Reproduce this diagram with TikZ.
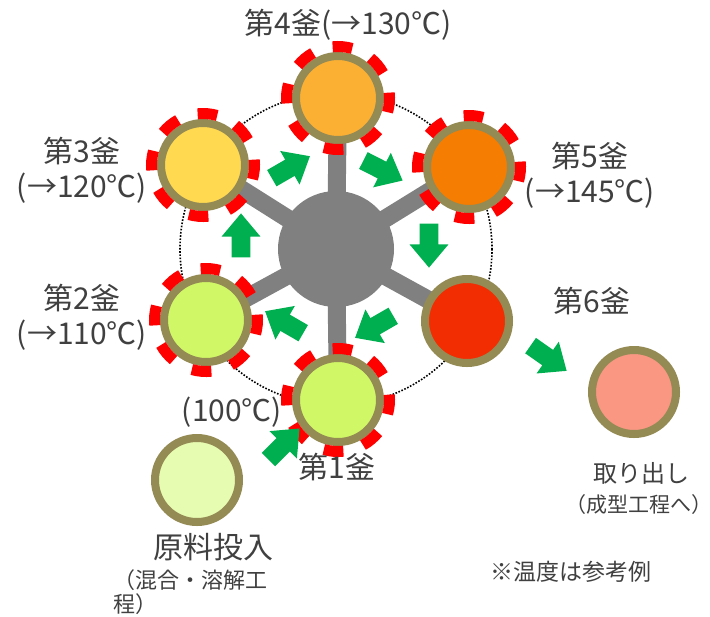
\documentclass[tikz,border=0pt]{standalone}
\usepackage{fontspec}
\setmainfont{Noto Sans CJK JP}
\usetikzlibrary{shapes.arrows,backgrounds}
\definecolor{ringol}{HTML}{948A54}
\definecolor{hubgray}{HTML}{808080}
\definecolor{flowgreen}{HTML}{00B050}
\definecolor{heatred}{HTML}{FF0000}
\definecolor{txtgray}{HTML}{404040}
\definecolor{colraw}{HTML}{E6FCB0}
\definecolor{colone}{HTML}{D0F766}
\definecolor{colthree}{HTML}{FFD950}
\definecolor{colfour}{HTML}{FBB034}
\definecolor{colfive}{HTML}{F47D02}
\definecolor{colsix}{HTML}{F32D02}
\definecolor{colout}{HTML}{F99783}
\tikzset{
  kettle/.style={circle, draw=ringol, line width=4pt, minimum size=42pt, inner sep=0pt},
  flow/.style={single arrow, fill=flowgreen, draw=none, minimum height=22pt,
    single arrow head extend=5pt, single arrow tip angle=80, inner xsep=0pt, inner ysep=4.5pt},
  heat/.pic={\foreach \a in {5,50,...,320}
    \draw[heatred, line width=5.5pt] (\a-11:51.5) arc[start angle=\a-11, end angle=\a+11, radius=51.5];},
  lbl/.style={text=txtgray, inner sep=0pt, align=center, font=\fontsize{15}{17.5}\selectfont},
  small/.style={text=txtgray, inner sep=0pt, font=\fontsize{10.5}{12}\selectfont},
}
\begin{document}
\begin{tikzpicture}[x=0.5pt, y=-0.5pt]
  \useasboundingbox (0,0) rectangle (710,616);
  % reactor
  \node[circle, fill=hubgray, minimum size=58pt, inner sep=0pt] (hub) at (336,249) {};
  \node[kettle, fill=colone] (k1) at (338,400) {};
  \node[kettle, fill=colone] (k2) at (206,320) {};
  \node[kettle, fill=colthree] (k3) at (203,165) {};
  \node[kettle, fill=colfour] (k4) at (338,98) {};
  \node[kettle, fill=colfive] (k5) at (469,167) {};
  \node[kettle, fill=colsix] (k6) at (467,321) {};
  \node[kettle, fill=colraw] (raw) at (197,480) {};
  \node[kettle, fill=colout] (out) at (634,392) {};
  \foreach \k in {k1,k2,k3,k4,k5}
    \pic at (\k) {heat};
  \begin{pgfonlayer}{background}
    \draw[line width=0.8pt, dash pattern=on 0.8pt off 0.8pt] (hub.center) circle[radius=156];
    \foreach \k in {k1,k2,k3,k4,k5,k6}
      \draw[hubgray, line width=9pt] (hub.center) -- (\k.center);
  \end{pgfonlayer}
  % flow
  \node[flow, rotate=45] (a01) at (280,448) {};
  \node[flow, rotate=150] (a12) at (289,325) {};
  \node[flow, rotate=90] (a23) at (241,241) {};
  \node[flow, rotate=30] (a34) at (286,170) {};
  \node[flow, rotate=-27] (a45) at (378,168) {};
  \node[flow, rotate=-90] (a56) at (429,240) {};
  \node[flow, rotate=210] (a61) at (379,324) {};
  \node[flow, rotate=-35] (a6o) at (544,355) {};
  % labels
  \node[lbl] (t4) at (348,25) {第4釜(→130℃)};
  \node[lbl] (t3) at (82,170) {第3釜\\(→120℃)};
  \node[lbl] (t5) at (590,175) {第5釜\\(→145℃)};
  \node[lbl] (t2) at (82,317) {第2釜\\(→110℃)};
  \node[lbl] (t6) at (592,301) {第6釜};
  \node[lbl] (t1t) at (232,412) {(100℃)};
  \node[lbl] (t1) at (337,467) {第1釜};
  \node[lbl, font=\fontsize{12}{14}\selectfont] (tout) at (641,473) {取り出し};
  \node[small] (tout2) at (639,505) {（成型工程へ）};
  \node[lbl] (traw) at (213,547) {原料投入};
  \node[small, anchor=west, align=left, font=\fontsize{11}{12}\selectfont] (traw2) at (113,592) {（混合・溶解工\\程）};
  \node[small, font=\fontsize{11.5}{13}\selectfont] (note) at (571,572) {※温度は参考例};
\end{tikzpicture}
\end{document}
